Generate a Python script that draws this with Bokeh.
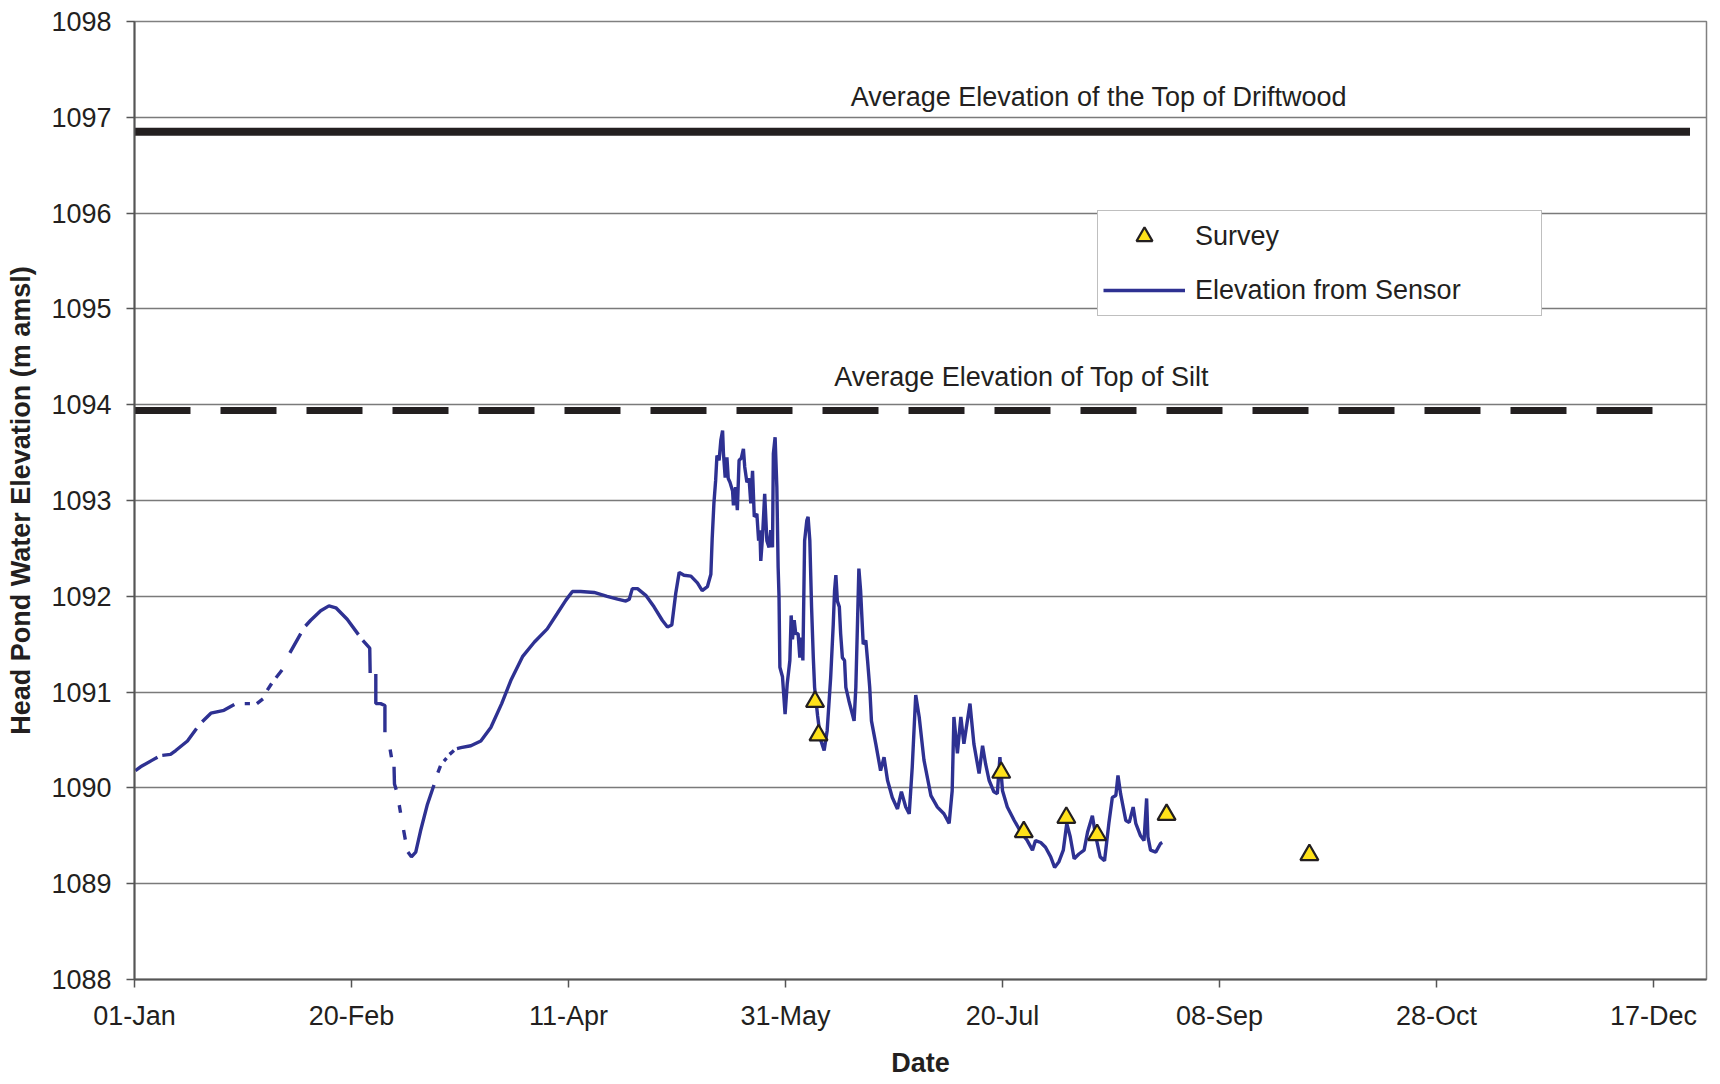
from bokeh.plotting import figure
from bokeh.models import FixedTicker, Range1d, Legend, LegendItem, Label
from bokeh.embed import file_html
from bokeh.resources import INLINE

NaN = float("nan")

# ---- axis ticks ----
xtick_days = [0, 50, 100, 150, 200, 250, 300, 350]
xtick_labels = ["01-Jan", "20-Feb", "11-Apr", "31-May", "20-Jul", "08-Sep", "28-Oct", "17-Dec"]
ytick_values = list(range(1088, 1099))

# ---- reference elevations ----
driftwood_elev = 1096.85
silt_elev = 1093.94
driftwood_days = [0, 358.4]
silt_days = [0, 352.1]

# ---- survey points (day offset from 01-Jan, m amsl) ----
survey_day = [156.8, 157.6, 199.7, 204.9, 214.7, 221.8, 237.8, 270.7]
survey_elev = [1090.90, 1090.55, 1090.16, 1089.54, 1089.69, 1089.51, 1089.72, 1089.30]

# ---- sensor series (day offset from 01-Jan, m amsl); NaN = data gap ----
sensor_day = [
    0.2, 1.4, 4.1, 5.3, 5.3,
    6.4, 8.3, 9.5, 12.2, 14.3, 14.3,
    15.6, 17.6, 20.6, 23.0, 23.0,
    25.4, 26.6, 26.6,
    28.2, 29.6, 29.6,
    30.6, 31.6, 31.6,
    32.6, 34.0, 34.0,
    35.8, 38.3, 38.3,
    39.4, 40.6, 42.9, 44.8, 46.4, 49.0, 51.6, 51.6,
    52.6, 54.2, 54.3, 54.3,
    55.6, 55.6, 56.7, 57.7, 57.7, 57.7,
    58.9, 59.2, 59.2,
    59.8, 59.9, 60.3, 60.3,
    61.0, 61.3, 61.3,
    62.0, 62.4, 62.4,
    63.0, 63.8, 64.8, 65.9, 67.5, 69.0, 69.0,
    69.9, 70.5, 70.5,
    71.3, 71.9, 71.9,
    72.6, 73.6, 73.6,
    74.3, 75.2, 77.5, 79.8, 82.1, 84.6, 86.7, 89.4, 92.1, 95.1, 97.4, 99.4,
    100.9, 102.8, 105.9, 108.9, 111.3, 113.2, 114.0, 114.7, 115.9, 117.8, 119.7,
    121.6, 122.8, 123.8, 124.7, 125.5, 126.6, 128.2, 129.7, 130.8, 132.0, 132.8,
    133.1, 133.5, 133.9, 134.2, 134.7, 135.1, 135.5, 135.7, 136.1, 136.5, 136.8,
    137.2, 137.8, 138.0, 138.5, 138.9, 139.3, 139.8, 140.3, 140.6, 141.1, 141.6,
    142.0, 142.4, 142.8, 143.4, 143.8, 144.1, 144.3, 144.7, 145.2, 145.7, 146.2,
    146.6, 147.0, 147.2, 147.6, 148.0, 148.3, 148.5, 148.7, 149.3, 149.9, 150.4,
    151.0, 151.3, 151.6, 152.0, 152.35, 152.9, 153.3, 153.7, 154.0, 154.4, 154.9,
    155.2, 155.6, 156.0, 156.4, 156.7, 157.4, 158.1, 158.9, 159.6, 160.4, 161.0,
    161.3, 161.6, 161.95, 162.4, 162.7, 163.1, 163.6, 163.9, 164.6, 165.8, 166.2,
    166.6, 166.9, 167.3, 167.6, 167.9, 168.5, 168.9, 169.4, 169.8, 170.8, 171.9,
    172.7, 173.5, 174.6, 175.8, 176.7, 177.7, 178.5, 179.2, 180.0, 180.8, 181.9,
    183.5, 185.0, 186.5, 187.7, 188.4, 188.8, 189.6, 190.4, 191.1, 192.5, 193.4,
    194.6, 195.4, 196.1, 196.9, 198.0, 198.8, 199.4, 200.0, 201.1, 202.7, 204.2,
    205.7, 206.9, 207.6, 208.8, 209.9, 211.1, 212.0, 213.0, 214.0, 214.8, 215.6,
    216.5, 217.6, 218.8, 219.6, 220.7, 221.5, 222.5, 223.5, 224.5, 225.3, 226.1,
    226.6, 227.2, 228.4, 229.2, 230.1, 230.7, 231.8, 232.6, 233.2, 233.5, 234.1,
    235.3, 236.4, 236.8,
]
sensor_elev = [
    1090.18, 1090.22, 1090.29, 1090.32, NaN,
    1090.34, 1090.35, 1090.39, 1090.49, 1090.62, NaN,
    1090.69, 1090.78, 1090.81, 1090.87, NaN,
    1090.88, 1090.88, NaN,
    1090.88, 1090.93, NaN,
    1091.02, 1091.09, NaN,
    1091.15, 1091.23, NaN,
    1091.41, 1091.61, NaN,
    1091.69, 1091.75, 1091.85, 1091.90, 1091.88, 1091.76, 1091.60, NaN,
    1091.54, 1091.46, 1091.20, NaN,
    1091.19, 1090.88, 1090.88, 1090.86, 1090.58, NaN,
    1090.40, 1090.32, NaN,
    1090.22, 1090.04, 1089.98, NaN,
    1089.82, 1089.74, NaN,
    1089.56, 1089.46, NaN,
    1089.33, 1089.28, 1089.33, 1089.55, 1089.83, 1090.03, NaN,
    1090.16, 1090.23, NaN,
    1090.28, 1090.31, NaN,
    1090.35, 1090.39, NaN,
    1090.41, 1090.42, 1090.44, 1090.49, 1090.63, 1090.88, 1091.12, 1091.37, 1091.52, 1091.66, 1091.82, 1091.96,
    1092.05, 1092.05, 1092.04, 1092.00, 1091.97, 1091.95, 1091.97, 1092.08, 1092.08, 1092.01, 1091.89,
    1091.75, 1091.68, 1091.70, 1092.03, 1092.25, 1092.22, 1092.21, 1092.14, 1092.06, 1092.10, 1092.23,
    1092.60, 1092.97, 1093.21, 1093.47, 1093.42, 1093.63, 1093.73, 1093.49, 1093.24, 1093.45, 1093.23,
    1093.19, 1093.10, 1092.95, 1093.14, 1092.90, 1093.42, 1093.44, 1093.54, 1093.35, 1093.19, 1093.23,
    1092.97, 1093.31, 1092.83, 1092.86, 1092.58, 1092.69, 1092.37, 1092.62, 1093.07, 1092.58, 1092.51,
    1092.69, 1092.51, 1093.49, 1093.66, 1093.14, 1092.30, 1092.00, 1091.26, 1091.16, 1090.77, 1091.09,
    1091.33, 1091.80, 1091.55, 1091.75, 1091.61, 1091.61, 1091.36, 1091.57, 1091.33, 1092.58, 1092.79,
    1092.83, 1092.58, 1091.89, 1091.36, 1091.05, 1090.75, 1090.50, 1090.39, 1090.60, 1091.15, 1091.71,
    1092.06, 1092.22, 1091.95, 1091.89, 1091.61, 1091.36, 1091.33, 1091.05, 1090.91, 1090.70, 1091.05,
    1091.75, 1092.29, 1092.06, 1091.78, 1091.50, 1091.54, 1091.33, 1091.05, 1090.70, 1090.46, 1090.18,
    1090.32, 1090.08, 1089.90, 1089.78, 1089.96, 1089.80, 1089.73, 1090.22, 1090.97, 1090.74, 1090.29,
    1089.92, 1089.80, 1089.73, 1089.63, 1089.97, 1090.74, 1090.36, 1090.74, 1090.46, 1090.88, 1090.46,
    1090.15, 1090.44, 1090.25, 1090.08, 1089.96, 1089.94, 1090.32, 1089.97, 1089.80, 1089.66, 1089.54,
    1089.45, 1089.35, 1089.45, 1089.43, 1089.38, 1089.28, 1089.17, 1089.23, 1089.35, 1089.63, 1089.49,
    1089.26, 1089.31, 1089.35, 1089.54, 1089.71, 1089.49, 1089.28, 1089.24, 1089.63, 1089.90, 1089.92,
    1090.13, 1089.94, 1089.66, 1089.64, 1089.80, 1089.63, 1089.50, 1089.45, 1089.89, 1089.49, 1089.35,
    1089.33, 1089.42, 1089.43,
]

FONT = "Liberation Sans"
TXT = "#231f20"
FS = "27px"

p = figure(
    width=1712, height=1084,
    x_range=Range1d(0, 362.2), y_range=Range1d(1088, 1098),
    output_backend="svg", toolbar_location=None,
    min_border_left=134, min_border_right=6, min_border_top=21, min_border_bottom=105,
    x_axis_label="Date", y_axis_label="Head Pond Water Elevation (m amsl)",
)
p.background_fill_color = "white"
p.border_fill_color = "white"
p.outline_line_color = "#808080"
p.outline_line_width = 1.5

# axes
p.xaxis.ticker = FixedTicker(ticks=xtick_days)
p.xaxis.major_label_overrides = {d: lbl for d, lbl in zip(xtick_days, xtick_labels)}
p.yaxis.ticker = FixedTicker(ticks=ytick_values)
for ax in (p.xaxis, p.yaxis):
    ax.axis_line_color = "#555555"
    ax.axis_line_width = 2
    ax.major_tick_line_color = "#555555"
    ax.major_tick_line_width = 1.5
    ax.major_tick_out = 8
    ax.major_tick_in = 0
    ax.minor_tick_line_color = None
    ax.major_label_text_font = FONT
    ax.major_label_text_font_size = FS
    ax.major_label_text_color = TXT
    ax.axis_label_text_font = FONT
    ax.axis_label_text_font_size = FS
    ax.axis_label_text_font_style = "bold"
    ax.axis_label_text_color = TXT
p.xaxis.major_label_standoff = 13
p.xaxis.axis_label_standoff = 14
p.yaxis.major_label_standoff = 15
p.yaxis.axis_label_standoff = 12

p.xgrid.visible = False
p.ygrid.ticker = FixedTicker(ticks=ytick_values)
p.ygrid.grid_line_color = "#7a7a7a"
p.ygrid.grid_line_width = 1.5

# reference lines
p.line(driftwood_days, [driftwood_elev] * 2, line_color=TXT, line_width=8)
p.line(silt_days, [silt_elev] * 2, line_color=TXT, line_width=7, line_dash="56 30")

p.add_layout(Label(x=222.2, y=1097.21, text="Average Elevation of the Top of Driftwood",
                   text_align="center", text_baseline="middle",
                   text_font=FONT, text_font_size=FS, text_color=TXT))
p.add_layout(Label(x=204.4, y=1094.29, text="Average Elevation of Top of Silt",
                   text_align="center", text_baseline="middle",
                   text_font=FONT, text_font_size=FS, text_color=TXT))

# data
sl = p.line(sensor_day, sensor_elev, line_color="#2E3192", line_width=3.4)
sv = p.scatter(survey_day, survey_elev, marker="triangle", size=18,
               fill_color="#FFE21A", line_color=TXT, line_width=2.2)

legend = Legend(
    items=[LegendItem(label="Survey", renderers=[sv]),
           LegendItem(label="Elevation from Sensor", renderers=[sl])],
    location=(963, 663),
    glyph_width=82, glyph_height=40, label_height=40, label_width=341,
    label_standoff=10, spacing=14, padding=5, margin=0,
    label_text_font=FONT, label_text_font_size=FS, label_text_color=TXT,
    border_line_color="#808080", border_line_width=1.5,
    background_fill_color="white", background_fill_alpha=1.0,
)
p.add_layout(legend)

open("out.html", "w").write(file_html(p, INLINE, title="Head Pond Water Elevation"))
